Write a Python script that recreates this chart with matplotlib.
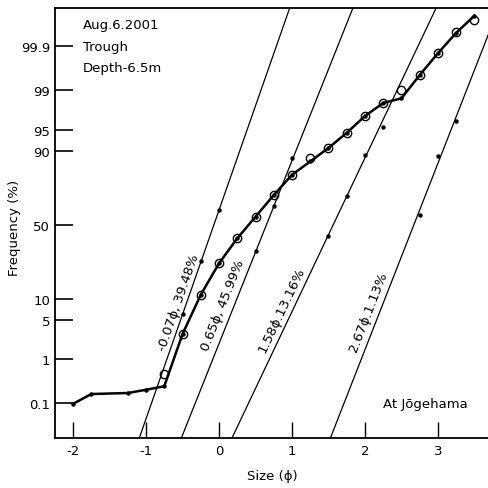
from statistics import NormalDist
import numpy as np
import matplotlib
matplotlib.use("Agg")
import matplotlib.pyplot as plt
from matplotlib.ticker import FixedLocator, NullLocator

plt.rcParams['font.family'] = ['DejaVu Sans']
plt.rcParams['axes.unicode_minus'] = False

# observed cumulative curve (line with small dots)
phi_obs = [-2.0, -1.75, -1.25, -1.0, -0.75, -0.5, -0.25, 0.0, 0.25, 0.5, 0.75,
           1.0, 1.25, 1.5, 1.75, 2.0, 2.25, 2.5, 2.75, 3.0, 3.25, 3.5]
p_obs = [0.097, 0.17, 0.18, 0.215, 0.26, 2.93, 11.3, 25.2, 40.7, 55.5, 69.6,
         80.6, 86.3, 90.8, 94.4, 97.0, 98.24, 98.56, 99.52, 99.85, 99.955, 99.985]

# fitted (mixed populations) curve, circles
phi_fit = [-0.75, -0.5, -0.25, 0.0, 0.25, 0.5, 0.75, 1.0, 1.25, 1.5, 1.75,
           2.0, 2.25, 2.5, 2.75, 3.0, 3.25, 3.5]
p_fit = [0.49, 2.93, 11.3, 25.2, 40.7, 55.5, 69.6, 80.6, 87.5, 90.8, 94.4,
         97.0, 98.24, 99.03, 99.52, 99.85, 99.957, 99.98]

# component populations: mean, sorting, label, points
comp_mean = [-0.07, 0.65, 1.565, 2.67]
comp_sd = [0.277, 0.316, 0.376, 0.31]
comp_label = ['-0.07ϕ, 39.48%', '0.65ϕ, 45.99%', '1.58ϕ.13.16%', '2.67ϕ.1.13%']
comp_phi = [[-0.5, -0.25, 0.0], [0.5, 0.75, 1.0], [1.5, 1.75, 2.0, 2.25], [2.75, 3.0, 3.25]]
comp_p = [[6.1, 26.7, 60.2], [32.6, 62.5, 87.5], [42.5, 68.9, 88.6, 95.4], [56.7, 88.3, 96.3]]
label_pos = [(-0.555, 9.06), (0.055, 8.24), (0.859, 7.24), (2.041, 6.77)]

yticks = [0.1, 1, 5, 10, 50, 90, 95, 99, 99.9]
ytick_labels = ['0.1', '1', '5', '10', '50', '90', '95', '99', '99.9']
xticks = [-2, -1, 0, 1, 2, 3]

nd = NormalDist()


def fwd(p):
    p = np.clip(np.asarray(p, dtype=float), 1e-7, 100 - 1e-7)
    return np.vectorize(lambda v: nd.inv_cdf(v / 100.0), otypes=[float])(p)


def inv(z):
    z = np.asarray(z, dtype=float)
    return np.vectorize(lambda v: 100.0 * nd.cdf(v), otypes=[float])(z)


fig = plt.figure(figsize=(4.89, 4.89), dpi=100)
ax = fig.add_axes([0.1125, 0.1022, 0.8875, 0.8794])
ax.set_yscale('function', functions=(fwd, inv))
ax.set_xlim(-2.247, 3.699)
ax.set_ylim(100 * nd.cdf(-3.69), 100 * nd.cdf(3.749))

# component straight lines
zz = np.array([-4.0, 4.0])
for m, s in zip(comp_mean, comp_sd):
    ax.plot(m + zz * s, inv(zz), color='black', lw=0.9)
for xs, ps in zip(comp_phi, comp_p):
    ax.plot(xs, ps, 'o', color='black', ms=3.2, mew=0)

ax.plot(phi_obs, p_obs, '-o', color='black', lw=1.8, ms=3.2, mew=0)
ax.plot(phi_fit, p_fit, 'o', mfc='none', mec='black', ms=6, mew=1.0)

# labels along the component lines
fig.canvas.draw()
for (lx, lp), m, s, txt in zip(label_pos, comp_mean, comp_sd, comp_label):
    p0 = ax.transData.transform((m - 2 * s, inv(-2.0)))
    p1 = ax.transData.transform((m + 2 * s, inv(2.0)))
    ang = np.degrees(np.arctan2(p1[1] - p0[1], p1[0] - p0[0]))
    ax.text(lx, lp, txt, rotation=ang, rotation_mode='anchor',
            ha='center', va='center', fontsize=9.5)

ax.text(0.064, 0.9605, 'Aug.6.2001', transform=ax.transAxes, fontsize=9.5, va='center')
ax.text(0.064, 0.9105, 'Trough', transform=ax.transAxes, fontsize=9.5, va='center')
ax.text(0.064, 0.8605, 'Depth-6.5m', transform=ax.transAxes, fontsize=9.5, va='center')
ax.text(0.756, 0.0814, 'At Jōgehama', transform=ax.transAxes, fontsize=9.5, va='center')

ax.yaxis.set_major_locator(FixedLocator(yticks))
ax.yaxis.set_minor_locator(NullLocator())
ax.set_yticklabels(ytick_labels)
ax.set_xticks(xticks)
ax.set_xticklabels([str(t) for t in xticks])
ax.tick_params(axis='y', direction='in', length=13, width=1.2, pad=3.5, labelsize=9.5)
ax.tick_params(axis='x', direction='in', length=11.5, width=1.0, pad=4.5, labelsize=9.5)

ax.spines['right'].set_visible(False)
for sp in ['left', 'top', 'bottom']:
    ax.spines[sp].set_linewidth(1.3)

fig.text(15 / 489, 1 - 228 / 489, 'Frequency (%)', rotation=90, ha='center', va='center', fontsize=9.5)
fig.text(272 / 489, 1 - 477 / 489, 'Size (ϕ)', ha='center', va='center', fontsize=9.5)

fig.savefig('out.png', dpi=100)
